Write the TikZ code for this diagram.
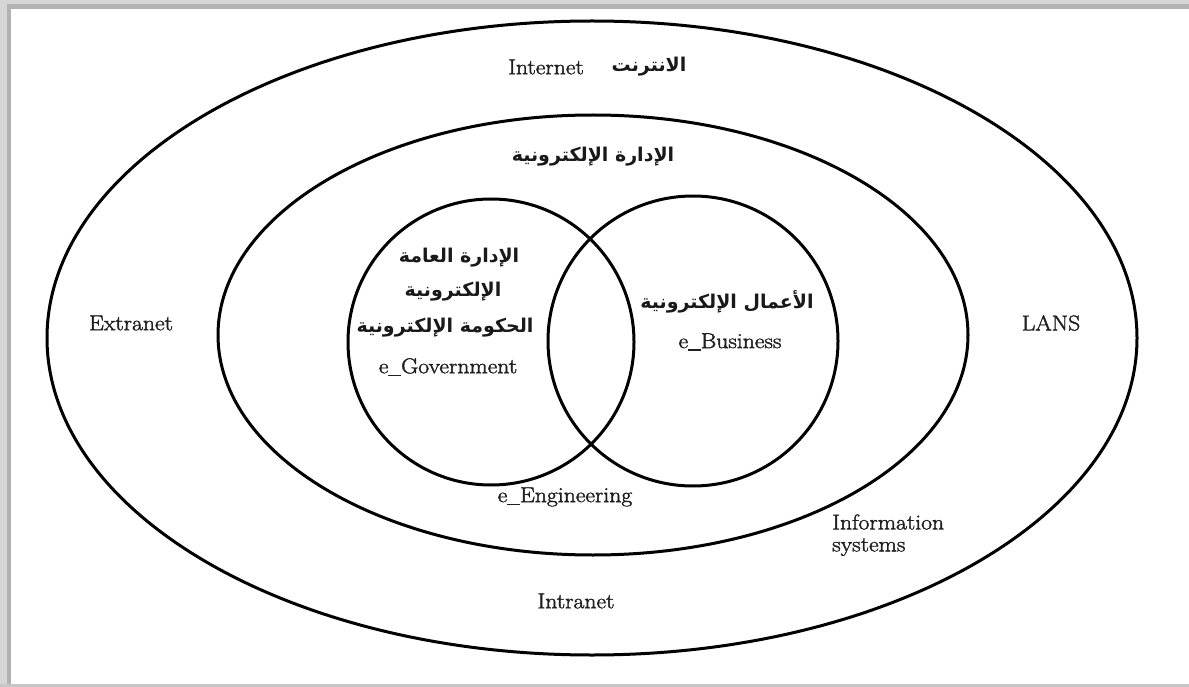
\documentclass[tikz,border=0pt]{standalone}
\usepackage{fontspec}
\newfontfamily\arabicfont[Script=Arabic]{DejaVu Sans}
\TeXXeTstate=1
% slightly heavier roman for the Latin labels
\newcommand\wlab[1]{\special{pdf:literal direct 2 Tr 0.35 w}#1\special{pdf:literal direct 0 Tr}}
\newcommand\usc{\rule[-2.5pt]{11.5pt}{1.1pt}}
\begin{document}
\begin{tikzpicture}[x=1pt,y=-1pt,
  ring/.style={line width=3pt, draw=black},
  lat/.style={font=\fontsize{21.5}{25}\selectfont, text=black!88, inner sep=0pt, xscale=1.1},
  ar/.style={font=\arabicfont\bfseries\fontsize{19}{22}\selectfont, text=black!90, inner sep=0pt},
]
\useasboundingbox (0,0) rectangle (1189,687);
\fill[white] (0,0) rectangle (1189,687);

% picture frame
\fill[black!16] (0,0) rectangle (1189,4);
\fill[black!30] (0,4) rectangle (1189,9);
\fill[black!16] (0,0) rectangle (7,687);
\fill[black!30] (7,4) rectangle (11,687);
\fill[black!22] (0,684) rectangle (1189,687);

% nested domains
\draw[ring] (592,338) ellipse [x radius=545, y radius=317];
\draw[ring] (593,335) ellipse [x radius=375, y radius=220];
\draw[ring] (491,342) circle [radius=143];
\draw[ring] (693,341) circle [radius=145];

% outer ring labels
\node[lat] (inet) at (546,67) {\wlab{Internet}};
\node[ar] (inetar) at (649,67) {\beginR الانترنت\endR};
\node[lat] (extra) at (131,323) {\wlab{Extranet}};
\node[lat] (lans) at (1051,323) {\wlab{LANS}};
\node[lat] (intra) at (576,601) {\wlab{Intranet}};

% inner ring labels
\node[ar] (eadmin) at (593,157) {\beginR الإدارة الإلكترونية\endR};
\node[lat] (eeng) at (565,497) {\wlab{e\usc Engineering}};
\node[lat, anchor=west] (info1) at (832,522) {\wlab{Information}};
\node[lat, anchor=west] (info2) at (832,547) {\wlab{systems}};

% government circle
\node[ar] (gov1) at (459,258) {\beginR الإدارة العامة\endR};
\node[ar] (gov2) at (453,292) {\beginR الإلكترونية\endR};
\node[ar] (gov3) at (445,328) {\beginR الحكومة الإلكترونية\endR};
\node[lat] (egov) at (448,367) {\wlab{e\usc Government}};

% business circle
\node[ar] (bus1) at (727,302) {\beginR الأعمال الإلكترونية\endR};
\node[lat] (ebus) at (730,342) {\wlab{e\usc Business}};
\end{tikzpicture}
\end{document}
